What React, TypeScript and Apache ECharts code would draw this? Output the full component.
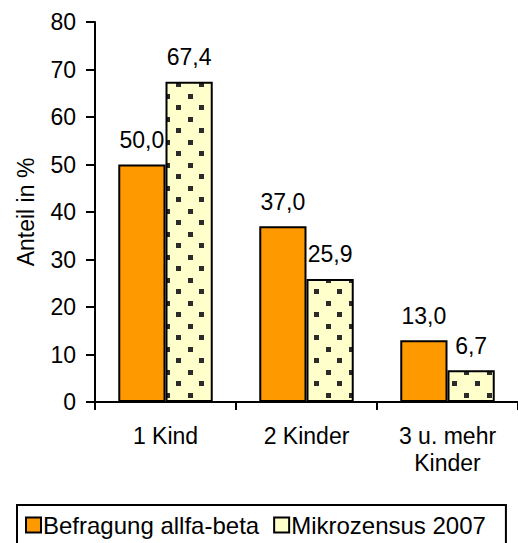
import React, { useEffect, useRef } from "react";
import * as echarts from "echarts";

const categories = ["1 Kind", "2 Kinder", "3 u. mehr\nKinder"];
const befragung = [50.0, 37.0, 13.0];
const mikrozensus = [67.4, 25.9, 6.7];
const seriesNames = ["Befragung allfa-beta", "Mikrozensus 2007"];

const FONT = "'Liberation Sans', Arial, sans-serif";
const FS = 23;

function makeDotPattern(): HTMLCanvasElement {
  const c = document.createElement("canvas");
  c.width = 23;
  c.height = 23;
  const ctx = c.getContext("2d")!;
  ctx.fillStyle = "#FFFFCC";
  ctx.fillRect(0, 0, 23, 23);
  ctx.fillStyle = "#2b2b2b";
  ctx.fillRect(15, 13, 5, 5);
  ctx.fillRect(4, 2, 5, 5);
  return c;
}

export default function App() {
  const ref = useRef<HTMLDivElement>(null);
  useEffect(() => {
    if (!ref.current) return;
    const chart = echarts.init(ref.current, null, { renderer: "svg" });
    const fmt = (p: any) => Number(p.value).toFixed(1).replace(".", ",");
    const pattern = { image: makeDotPattern(), repeat: "repeat", imageWidth: 23, imageHeight: 23 };
    chart.setOption({
      animation: false,
      backgroundColor: "#ffffff",
      textStyle: { fontFamily: FONT },
      grid: { left: 95, top: 22, bottom: 141, right: -3, containLabel: false },
      legend: {
        left: 17,
        top: 505,
        orient: "horizontal",
        borderColor: "#000",
        borderWidth: 2,
        padding: [8, 20, 16, 8],
        itemWidth: 15,
        itemHeight: 15,
        itemGap: 14,
        icon: "rect",
        textStyle: { fontSize: 24, color: "#000", fontFamily: FONT, padding: [0, 0, 0, -3] },
        data: [
          { name: seriesNames[0], itemStyle: { color: "#FF9900", borderColor: "#000", borderWidth: 2 } },
          { name: seriesNames[1], itemStyle: { color: "#FFFFCC", borderColor: "#000", borderWidth: 2 } },
        ],
      },
      xAxis: {
        type: "category",
        data: categories,
        axisLine: { lineStyle: { color: "#000", width: 2 } },
        axisTick: { show: true, length: 8, lineStyle: { color: "#000", width: 2 } },
        axisLabel: { fontSize: FS, color: "#000", fontFamily: FONT, margin: 20, lineHeight: 27, interval: 0 },
        splitLine: { show: false },
      },
      yAxis: {
        type: "value",
        min: 0,
        max: 80,
        interval: 10,
        name: "Anteil in %",
        nameLocation: "middle",
        nameGap: 58,
        nameTextStyle: { fontSize: FS, color: "#000", fontFamily: FONT },
        axisLine: { show: true, lineStyle: { color: "#000", width: 2 } },
        axisTick: { show: true, length: 9, lineStyle: { color: "#000", width: 2 } },
        axisLabel: { fontSize: FS, color: "#000", fontFamily: FONT, margin: 19 },
        splitLine: { show: false },
      },
      series: [
        {
          name: seriesNames[0],
          type: "bar",
          data: befragung,
          barGap: "0%",
          barCategoryGap: "33%",
          itemStyle: { color: "#FF9900", borderColor: "#000", borderWidth: 2 },
          label: { show: true, position: "top", distance: 13, formatter: fmt, fontSize: FS, color: "#000", fontFamily: FONT },
        },
        {
          name: seriesNames[1],
          type: "bar",
          data: mikrozensus,
          barGap: "0%",
          barCategoryGap: "33%",
          itemStyle: { color: pattern, borderColor: "#000", borderWidth: 2 },
          label: { show: true, position: "top", distance: 13, formatter: fmt, fontSize: FS, color: "#000", fontFamily: FONT },
        },
      ],
    });
    return () => chart.dispose();
  }, []);
  return (
    <div
      ref={ref}
      style={{ position: "fixed", left: 0, top: 0, width: 518, height: 543, background: "#fff" }}
    />
  );
}
